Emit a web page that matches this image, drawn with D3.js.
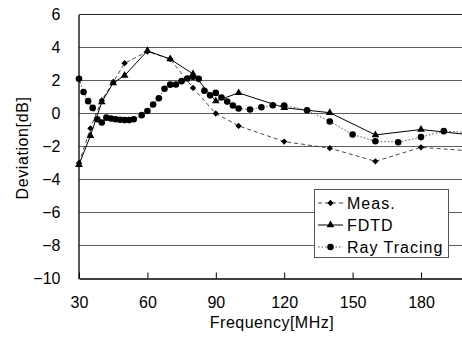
<!DOCTYPE html>
<html>
<head>
<meta charset="utf-8">
<script src="https://cdn.jsdelivr.net/npm/d3@7"></script>
<style>
  body { margin: 0; background: #fff; }
  svg { display: block; font-family: "Liberation Sans", Arial, sans-serif; }
</style>
</head>
<body>
<svg id="chart" width="462" height="338"></svg>
<script>
// data
var measFreq = [30, 35, 40, 45, 50, 60, 70, 80, 90, 100, 120, 140, 160, 180, 200];
var measVal  = [-3.0, -0.9, 0.8, 1.9, 3.05, 3.75, 3.3, 1.55, 0.0, -0.75, -1.7, -2.1, -2.9, -2.05, -2.25];

var fdtdFreq = [30, 35, 40, 45, 50, 60, 70, 80, 90, 100, 120, 140, 160, 180, 200];
var fdtdVal  = [-3.1, -1.35, 0.7, 1.85, 2.3, 3.8, 3.3, 2.4, 0.75, 1.25, 0.35, 0.05, -1.3, -0.97, -1.27];

var rayFreq = [30, 32, 34, 36, 38, 40, 42, 44, 46, 48, 50, 52, 54, 57.5, 60, 62.5, 65, 67.5, 70, 72.5,
               75, 77.5, 80, 82.5, 85, 87.5, 90, 92.5, 95, 97.5, 100, 105, 110, 115, 120, 130, 140,
               150, 160, 170, 180, 190, 200];
var rayVal  = [2.1, 1.3, 0.75, 0.34, -0.35, -0.55, -0.25, -0.3, -0.35, -0.38, -0.4, -0.4, -0.35, -0.1, 0.15, 0.55, 0.92, 1.5, 1.75, 1.76,
               1.96, 2.12, 2.22, 2.1, 1.38, 1.1, 1.25, 0.97, 0.72, 0.49, 0.3, 0.24, 0.38, 0.5, 0.49, 0.2, -0.48,
               -1.27, -1.68, -1.74, -1.43, -1.07, -1.15];

var xTicks = [30, 60, 90, 120, 150, 180];
var yTicks = [-10, -8, -6, -4, -2, 0, 2, 4, 6];

var svg = d3.select("#chart");

var xScale = d3.scaleLinear()
    .domain([30, 200])
    .range([79, 466.6]);

var yScale = d3.scaleLinear()
    .domain([-10, 6])
    .range([278.5, 14.5]);

// grid lines
svg.append("g")
    .selectAll("line")
    .data(yTicks.filter(function (d) { return d > -10; }))
    .enter().append("line")
    .attr("x1", xScale(30))
    .attr("x2", 462)
    .attr("y1", function (d) { return yScale(d); })
    .attr("y2", function (d) { return yScale(d); })
    .attr("stroke", function (d) { return d == 6 ? "#222" : "#5e5e5e"; })
    .attr("stroke-width", 1.1);

// y axis
var yAxis = svg.append("g")
    .attr("transform", "translate(" + (xScale(30) - 0.5) + ",0)")
    .call(d3.axisLeft(yScale).tickValues(yTicks).tickSize(0).tickPadding(18)
        .tickFormat(function (d) { return d < 0 ? "\u2212" + Math.abs(d) : d; }));
yAxis.select(".domain").attr("stroke", "#000").attr("stroke-width", 1.3);
yAxis.selectAll("text").attr("font-size", 16).attr("fill", "#000").attr("font-family", "Liberation Sans, Arial, sans-serif");

// x axis, ticks pointing inward
var xAxis = svg.append("g")
    .attr("transform", "translate(0," + yScale(-10) + ")")
    .call(d3.axisBottom(xScale).tickValues(xTicks).tickSize(-6).tickPadding(18).tickSizeOuter(0));
xAxis.select(".domain").attr("stroke", "#000").attr("stroke-width", 1.3);
xAxis.selectAll("line").attr("stroke", "#000");
xAxis.selectAll("text").attr("font-size", 16).attr("fill", "#000").attr("font-family", "Liberation Sans, Arial, sans-serif");

// axis titles
svg.append("text")
    .attr("x", 272)
    .attr("y", 328)
    .attr("text-anchor", "middle")
    .attr("font-size", 16)
    .attr("letter-spacing", 0.5)
    .text("Frequency[MHz]");

svg.append("text")
    .attr("transform", "translate(28,148) rotate(-90)")
    .attr("text-anchor", "middle")
    .attr("font-size", 16)
    .attr("letter-spacing", 0.6)
    .text("Deviation[dB]");

var line = d3.line()
    .x(function (d) { return xScale(d.f); })
    .y(function (d) { return yScale(d.v); });

function pairs(fs, vs) {
    return fs.map(function (f, i) { return { f: f, v: vs[i] }; });
}

var series = [
    { name: "Meas.", data: pairs(measFreq, measVal), dash: "4,3", stroke: "#333", width: 0.9,
      symbol: d3.symbol().type(d3.symbolSquare).size(20), rot: 45 },
    { name: "FDTD", data: pairs(fdtdFreq, fdtdVal), dash: null, stroke: "#000", width: 1,
      symbol: d3.symbol().type(d3.symbolTriangle).size(26), rot: 0 },
    { name: "Ray Tracing", data: pairs(rayFreq, rayVal), dash: "1.5,2", stroke: "#555", width: 1,
      symbol: d3.symbol().type(d3.symbolCircle).size(34), rot: 0 }
];

var plot = svg.append("g");

series.forEach(function (s) {
    plot.append("path")
        .datum(s.data)
        .attr("fill", "none")
        .attr("stroke", s.stroke)
        .attr("stroke-width", s.width)
        .attr("stroke-dasharray", s.dash)
        .attr("d", line);
});

series.forEach(function (s) {
    plot.selectAll(null)
        .data(s.data)
        .enter().append("path")
        .attr("d", s.symbol)
        .attr("fill", "#000")
        .attr("transform", function (d) {
            return "translate(" + xScale(d.f) + "," + yScale(d.v) + ") rotate(" + s.rot + ")";
        });
});

// legend
var legend = svg.append("g");
legend.append("rect")
    .attr("x", 314.5)
    .attr("y", 189.5)
    .attr("width", 134)
    .attr("height", 68)
    .attr("fill", "#fff")
    .attr("stroke", "#555")
    .attr("stroke-width", 1);

var rowY = [203, 225, 247];
series.forEach(function (s, i) {
    legend.append("line")
        .attr("x1", 318)
        .attr("x2", 343)
        .attr("y1", rowY[i])
        .attr("y2", rowY[i])
        .attr("stroke", s.stroke)
        .attr("stroke-width", s.width)
        .attr("stroke-dasharray", s.dash);
    legend.append("path")
        .attr("d", s.symbol)
        .attr("fill", "#000")
        .attr("transform", "translate(330.5," + rowY[i] + ") rotate(" + s.rot + ")");
    legend.append("text")
        .attr("x", 347)
        .attr("y", rowY[i] + 6)
        .attr("font-size", 16)
        .attr("letter-spacing", 1)
        .text(s.name);
});
</script>
</body>
</html>
